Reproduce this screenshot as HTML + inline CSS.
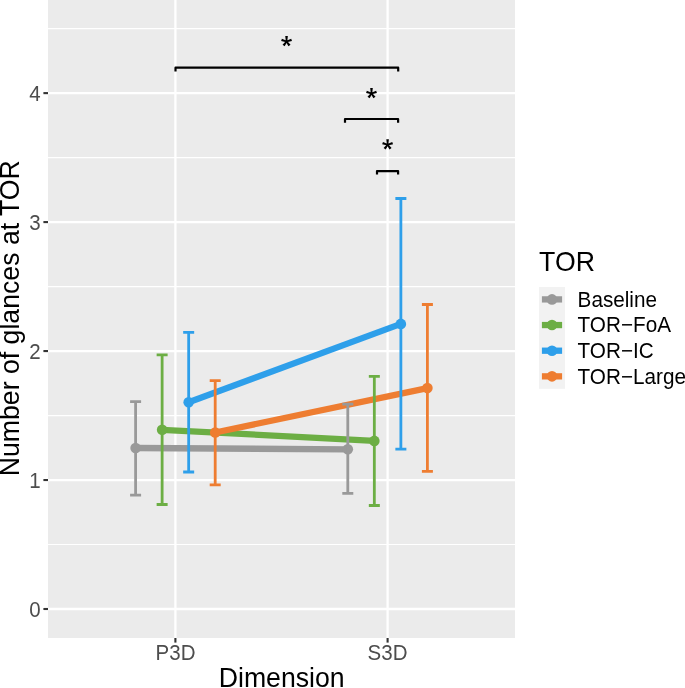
<!DOCTYPE html><html><head><meta charset="utf-8"><style>html,body{margin:0;padding:0;background:#fff;}svg{display:block;will-change:transform;}text{font-family:"Liberation Sans",sans-serif;}</style></head><body>
<svg width="685" height="688" viewBox="0 0 685 688">
<rect x="0" y="0" width="685" height="688" fill="#fff"/>
<rect x="48" y="0" width="467" height="638" fill="#EBEBEB"/>
<line x1="48" x2="515" y1="544.51" y2="544.51" stroke="#fff" stroke-width="1.2"/>
<line x1="48" x2="515" y1="415.55" y2="415.55" stroke="#fff" stroke-width="1.2"/>
<line x1="48" x2="515" y1="286.57" y2="286.57" stroke="#fff" stroke-width="1.2"/>
<line x1="48" x2="515" y1="157.61" y2="157.61" stroke="#fff" stroke-width="1.2"/>
<line x1="48" x2="515" y1="28.63" y2="28.63" stroke="#fff" stroke-width="1.2"/>
<line x1="48" x2="515" y1="609.00" y2="609.00" stroke="#fff" stroke-width="2.3"/>
<line x1="48" x2="515" y1="480.03" y2="480.03" stroke="#fff" stroke-width="2.3"/>
<line x1="48" x2="515" y1="351.06" y2="351.06" stroke="#fff" stroke-width="2.3"/>
<line x1="48" x2="515" y1="222.09" y2="222.09" stroke="#fff" stroke-width="2.3"/>
<line x1="48" x2="515" y1="93.12" y2="93.12" stroke="#fff" stroke-width="2.3"/>
<line x1="175.4" x2="175.4" y1="0" y2="638" stroke="#fff" stroke-width="2.3"/>
<line x1="387.6" x2="387.6" y1="0" y2="638" stroke="#fff" stroke-width="2.3"/>
<line x1="135.60" y1="448.0" x2="347.80" y2="449.3" stroke="#999999" stroke-width="6.3" stroke-linecap="butt"/>
<line x1="162.13" y1="429.8" x2="374.33" y2="440.9" stroke="#6CAE44" stroke-width="6.3" stroke-linecap="butt"/>
<line x1="188.67" y1="402.3" x2="400.87" y2="323.9" stroke="#2E9FEA" stroke-width="6.3" stroke-linecap="butt"/>
<line x1="215.20" y1="432.5" x2="427.40" y2="388.1" stroke="#EE7D31" stroke-width="6.3" stroke-linecap="butt"/>
<circle cx="135.60" cy="448.0" r="5.3" fill="#999999"/>
<circle cx="347.80" cy="449.3" r="5.3" fill="#999999"/>
<circle cx="162.13" cy="429.8" r="5.3" fill="#6CAE44"/>
<circle cx="374.33" cy="440.9" r="5.3" fill="#6CAE44"/>
<circle cx="188.67" cy="402.3" r="5.3" fill="#2E9FEA"/>
<circle cx="400.87" cy="323.9" r="5.3" fill="#2E9FEA"/>
<circle cx="215.20" cy="432.5" r="5.3" fill="#EE7D31"/>
<circle cx="427.40" cy="388.1" r="5.3" fill="#EE7D31"/>
<path d="M130.10 401.6H141.10M135.60 401.6V495.1M130.10 495.1H141.10" fill="none" stroke="#999999" stroke-width="2.8"/>
<path d="M342.30 404.2H353.30M347.80 404.2V493.4M342.30 493.4H353.30" fill="none" stroke="#999999" stroke-width="2.8"/>
<path d="M156.63 354.8H167.63M162.13 354.8V504.5M156.63 504.5H167.63" fill="none" stroke="#6CAE44" stroke-width="2.8"/>
<path d="M368.83 376.3H379.83M374.33 376.3V505.5M368.83 505.5H379.83" fill="none" stroke="#6CAE44" stroke-width="2.8"/>
<path d="M183.17 332.4H194.17M188.67 332.4V472.0M183.17 472.0H194.17" fill="none" stroke="#2E9FEA" stroke-width="2.8"/>
<path d="M395.37 198.5H406.37M400.87 198.5V449.05M395.37 449.05H406.37" fill="none" stroke="#2E9FEA" stroke-width="2.8"/>
<path d="M209.70 380.7H220.70M215.20 380.7V484.9M209.70 484.9H220.70" fill="none" stroke="#EE7D31" stroke-width="2.8"/>
<path d="M421.90 304.5H432.90M427.40 304.5V471.4M421.90 471.4H432.90" fill="none" stroke="#EE7D31" stroke-width="2.8"/>
<path d="M175.5 71.4V67.7H398.2V71.4" fill="none" stroke="#000" stroke-width="2.2" stroke-linejoin="round"/>
<path d="M345.0 122.7V119.0H398.1V122.7" fill="none" stroke="#000" stroke-width="2.2" stroke-linejoin="round"/>
<path d="M377.0 174.4V171.1H398.1V174.4" fill="none" stroke="#000" stroke-width="2.2" stroke-linejoin="round"/>
<path d="M287.25 41.50L287.85 36.05L285.25 36.05L285.85 41.50ZM286.77 40.83L281.91 38.63L281.11 41.10L286.33 42.17ZM286.77 42.17L291.99 41.10L291.19 38.63L286.33 40.83ZM285.98 41.09L282.56 44.78L284.66 46.31L287.12 41.91ZM285.98 41.91L288.44 46.31L290.54 44.78L287.12 41.09Z" fill="#000"/>
<path d="M372.20 93.50L372.80 88.05L370.20 88.05L370.80 93.50ZM371.72 92.83L366.86 90.63L366.06 93.10L371.28 94.17ZM371.72 94.17L376.94 93.10L376.14 90.63L371.28 92.83ZM370.93 93.09L367.51 96.78L369.61 98.31L372.07 93.91ZM370.93 93.91L373.39 98.31L375.49 96.78L372.07 93.09Z" fill="#000"/>
<path d="M388.30 144.75L388.90 139.30L386.30 139.30L386.90 144.75ZM387.82 144.08L382.96 141.88L382.16 144.35L387.38 145.42ZM387.82 145.42L393.04 144.35L392.24 141.88L387.38 144.08ZM387.03 144.34L383.61 148.03L385.71 149.56L388.17 145.16ZM387.03 145.16L389.49 149.56L391.59 148.03L388.17 144.34Z" fill="#000"/>
<line x1="43.4" x2="48" y1="609.00" y2="609.00" stroke="#333" stroke-width="2.1"/>
<line x1="43.4" x2="48" y1="480.03" y2="480.03" stroke="#333" stroke-width="2.1"/>
<line x1="43.4" x2="48" y1="351.06" y2="351.06" stroke="#333" stroke-width="2.1"/>
<line x1="43.4" x2="48" y1="222.09" y2="222.09" stroke="#333" stroke-width="2.1"/>
<line x1="43.4" x2="48" y1="93.12" y2="93.12" stroke="#333" stroke-width="2.1"/>
<line x1="175.4" x2="175.4" y1="638" y2="642.6" stroke="#333" stroke-width="2.1"/>
<line x1="387.6" x2="387.6" y1="638" y2="642.6" stroke="#333" stroke-width="2.1"/>
<text transform="translate(40.70 616.65) scale(1 1.07)" font-size="20.5" text-anchor="end" fill="#4D4D4D">0</text>
<text transform="translate(40.70 487.68) scale(1 1.07)" font-size="20.5" text-anchor="end" fill="#4D4D4D">1</text>
<text transform="translate(40.70 358.71) scale(1 1.07)" font-size="20.5" text-anchor="end" fill="#4D4D4D">2</text>
<text transform="translate(40.70 229.74) scale(1 1.07)" font-size="20.5" text-anchor="end" fill="#4D4D4D">3</text>
<text transform="translate(40.70 100.77) scale(1 1.07)" font-size="20.5" text-anchor="end" fill="#4D4D4D">4</text>
<text transform="translate(175.50 659.70) scale(1 1.04)" font-size="20.5" text-anchor="middle" fill="#4D4D4D">P3D</text>
<text transform="translate(387.50 659.70) scale(1 1.04)" font-size="20.5" text-anchor="middle" fill="#4D4D4D">S3D</text>
<text transform="translate(281.70 687.00) scale(1 1.07)" font-size="26.67" text-anchor="middle" fill="#000">Dimension</text>
<text transform="translate(19.20 318.20) rotate(-90) scale(1 1.07)" font-size="26.67" text-anchor="middle" fill="#000">Number of glances at TOR</text>
<text transform="translate(539.10 270.60) scale(1 1.07)" font-size="26.67" text-anchor="start" fill="#000">TOR</text>
<rect x="539" y="287" width="26" height="101.8" fill="#F2F2F2"/>
<line x1="541.9" x2="562.1" y1="299.4" y2="299.4" stroke="#999999" stroke-width="6.3"/>
<circle cx="552" cy="299.4" r="5.3" fill="#999999"/>
<text transform="translate(577.60 306.80) scale(1 1.04)" font-size="20.7" text-anchor="start" fill="#000">Baseline</text>
<line x1="541.9" x2="562.1" y1="325.04999999999995" y2="325.04999999999995" stroke="#6CAE44" stroke-width="6.3"/>
<circle cx="552" cy="325.04999999999995" r="5.3" fill="#6CAE44"/>
<text transform="translate(577.60 332.45) scale(1 1.04)" font-size="20.7" text-anchor="start" fill="#000">TOR−FoA</text>
<line x1="541.9" x2="562.1" y1="350.7" y2="350.7" stroke="#2E9FEA" stroke-width="6.3"/>
<circle cx="552" cy="350.7" r="5.3" fill="#2E9FEA"/>
<text transform="translate(577.60 358.10) scale(1 1.04)" font-size="20.7" text-anchor="start" fill="#000">TOR−IC</text>
<line x1="541.9" x2="562.1" y1="376.34999999999997" y2="376.34999999999997" stroke="#EE7D31" stroke-width="6.3"/>
<circle cx="552" cy="376.34999999999997" r="5.3" fill="#EE7D31"/>
<text transform="translate(577.60 383.75) scale(1 1.04)" font-size="20.7" text-anchor="start" fill="#000">TOR−Large</text>
</svg></body></html>
